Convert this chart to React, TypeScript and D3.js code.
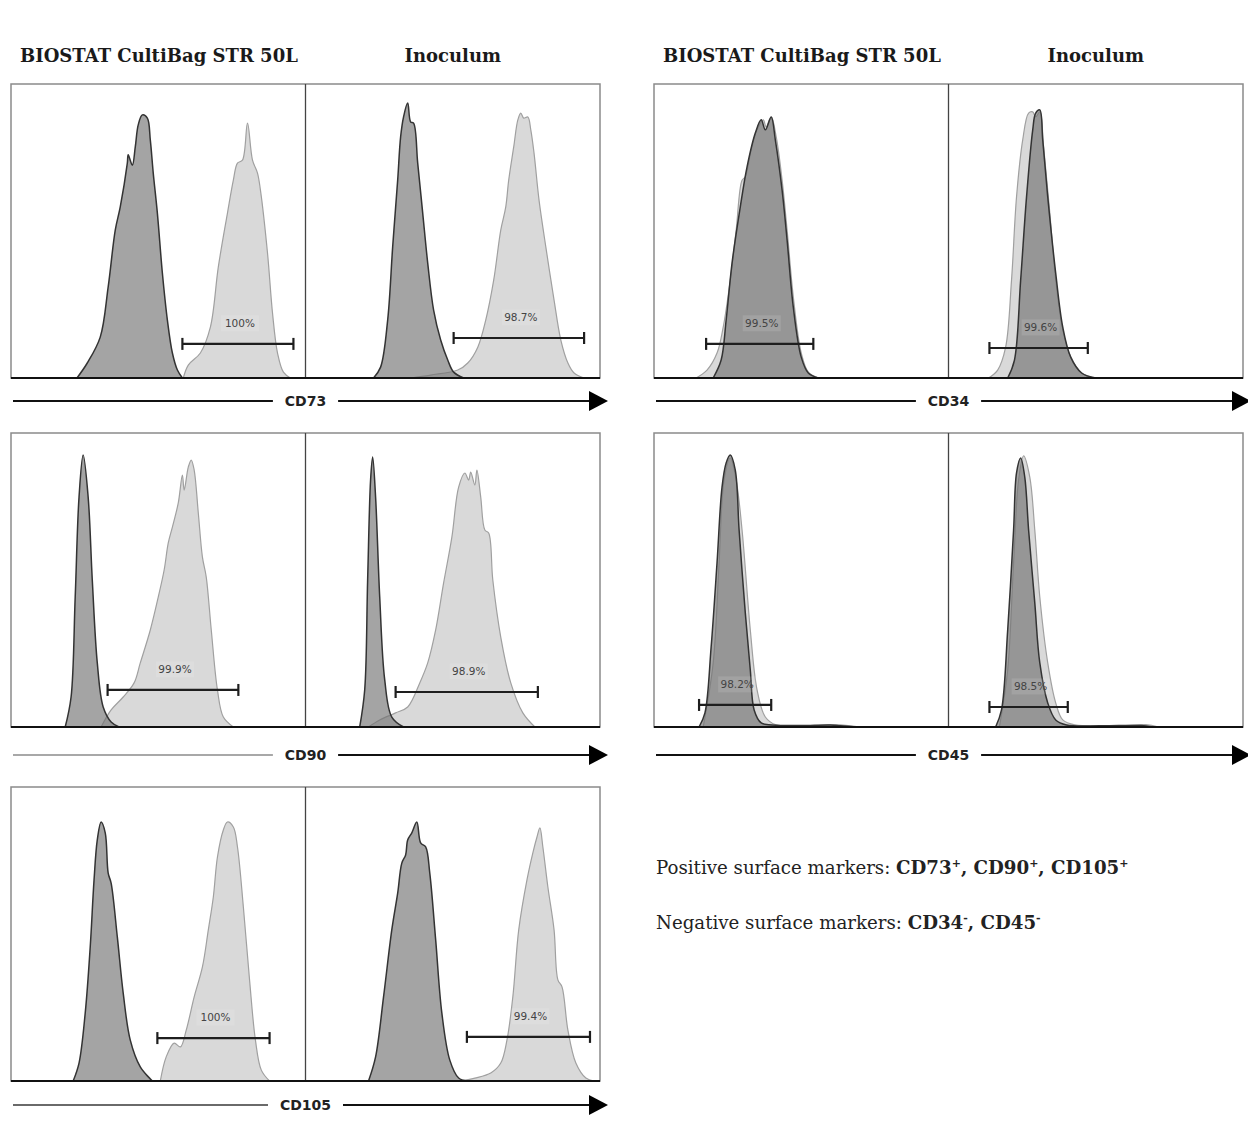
import React from "react";
import * as d3 from "d3";

type Pt = [number, number];

// ---------- Text ----------
const columnTitles = ["BIOSTAT CultiBag STR 50L", "Inoculum"];
const leftMarkers = ["CD73", "CD90", "CD105"];
const rightMarkers = ["CD34", "CD45"];
const positiveLabel = "Positive surface markers: ";
const positiveMarkers = ["CD73", "CD90", "CD105"];
const negativeLabel = "Negative surface markers: ";
const negativeMarkers = ["CD34", "CD45"];

// ---------- Histograms (x: fluorescence channel 0-100, y: % of max count) ----------
// dark = isotype control, light = stained sample
const cd73BioIso: Pt[] = [[22.4,0],[25.9,5.1],[30.3,13.9],[33.0,31.0],[35.4,50.3],[37.1,58.2],[39.5,73.1],[39.8,75.9],[41.2,72.4],[42.2,78.6],[43.2,86.1],[44.6,89.5],[46.3,88.4],[47.3,81.0],[48.3,69.7],[49.7,56.1],[51.4,35.7],[53.1,19.7],[54.8,8.5],[56.5,2.7],[58.2,0]];
const cd73BioStain: Pt[] = [[58.5,0],[60.2,4.4],[64.3,8.5],[67.7,17.3],[70.4,37.8],[73.5,56.1],[75.5,67.3],[76.9,73.1],[78.6,74.1],[80.3,86.7],[82.0,74.1],[83.7,69.7],[84.7,63.9],[87.1,42.5],[88.8,22.1],[90.5,8.5],[92.5,2.0],[94.9,0]];
const cd73InoIso: Pt[] = [[23.1,0],[25.5,3.7],[27.9,19.7],[29.6,44.6],[31.3,67.3],[32.3,82.0],[33.3,88.8],[34.7,93.5],[35.7,87.1],[36.7,86.7],[38.1,73.1],[39.8,56.1],[41.5,39.1],[43.5,23.1],[45.9,12.9],[48.3,6.1],[50.3,2.0],[53.7,0]];
const cd73InoStain: Pt[] = [[35.7,0],[42.5,1.0],[51.7,2.7],[55.1,5.1],[58.5,10.5],[61.2,19.7],[63.9,33.3],[66.3,50.3],[68.0,58.2],[69.0,67.3],[70.7,78.6],[72.1,87.8],[73.1,90.1],[74.1,88.4],[75.5,88.8],[76.5,84.4],[77.6,76.5],[79.3,60.5],[81.6,44.6],[84.4,26.5],[86.7,12.9],[89.1,5.1],[91.2,1.7],[94.6,0]];

const cd90BioIso: Pt[] = [[18.4,0],[20.4,10.2],[21.8,44.2],[23.1,78.2],[24.5,92.5],[26.2,78.2],[27.6,50.0],[29.3,21.8],[31.3,6.8],[34.0,1.7],[36.7,0]];
const cd90BioStain: Pt[] = [[30.6,0],[34.0,5.8],[38.1,10.2],[41.8,15.0],[43.9,21.8],[47.3,33.0],[50.0,44.2],[52.0,53.4],[53.4,62.6],[54.8,68.0],[56.8,76.2],[58.2,85.7],[58.8,80.6],[60.2,88.4],[61.2,90.8],[62.2,87.4],[63.6,72.8],[65.0,57.8],[66.3,51.0],[68.0,33.0],[70.1,12.6],[72.1,3.4],[75.5,0]];
const cd90InoIso: Pt[] = [[18.4,0],[20.1,12.6],[21.1,50.0],[22.1,84.0],[22.8,91.8],[23.8,78.2],[25.2,44.2],[26.9,16.0],[29.3,3.4],[33.3,0]];
const cd90InoStain: Pt[] = [[21.4,0],[25.2,2.4],[30.6,4.8],[34.7,6.8],[38.8,15.0],[41.5,21.8],[44.2,33.0],[46.9,49.0],[49.7,64.6],[52.0,81.6],[54.1,86.4],[55.4,84.0],[56.1,86.7],[57.5,82.3],[58.2,87.4],[59.5,78.2],[60.9,67.0],[62.2,66.0],[63.6,50.0],[66.3,30.6],[69.7,15.0],[73.8,4.8],[77.9,0]];

const cd105BioIso: Pt[] = [[21.1,0],[23.1,6.1],[25.2,23.1],[26.9,45.6],[28.2,68.4],[29.3,82.0],[30.6,88.1],[32.0,84.4],[33.0,70.7],[34.0,67.3],[36.1,49.0],[38.1,29.9],[40.5,13.9],[43.9,4.8],[48.0,0]];
const cd105BioStain: Pt[] = [[50.7,0],[52.7,8.2],[55.4,12.9],[57.5,11.6],[59.5,17.3],[62.2,28.6],[65.0,38.8],[67.0,51.4],[68.7,62.6],[70.1,76.2],[72.1,85.4],[73.5,88.1],[75.5,86.4],[76.9,79.6],[78.9,59.2],[81.0,34.4],[83.0,13.9],[85.0,3.7],[87.8,0]];
const cd105InoIso: Pt[] = [[21.4,0],[23.8,8.2],[26.5,28.6],[29.3,51.4],[31.3,63.9],[32.7,74.1],[34.0,76.9],[34.7,82.0],[36.1,84.4],[37.8,88.1],[39.1,81.0],[40.8,79.6],[42.2,70.7],[44.2,48.0],[46.3,23.1],[49.0,7.1],[52.0,1.0],[54.8,0]];
const cd105InoStain: Pt[] = [[52.0,0],[57.5,1.0],[62.9,2.7],[66.3,6.1],[68.4,13.9],[70.4,28.6],[72.4,51.4],[75.2,68.4],[77.2,77.6],[78.6,83.0],[79.6,86.1],[80.6,79.6],[82.3,66.0],[84.4,51.4],[85.7,34.4],[87.1,32.0],[89.1,17.3],[91.8,6.1],[95.2,1.0],[98.0,0]];

const cd34BioIso: Pt[] = [[20.1,0],[22.8,6.1],[24.5,19.7],[26.5,39.1],[29.3,58.2],[31.6,71.8],[34.4,83.3],[36.4,87.8],[37.8,84.4],[39.8,88.8],[41.2,81.0],[43.5,63.9],[45.2,46.9],[47.3,24.1],[50.0,7.1],[52.4,1.7],[55.8,0]];
const cd34BioStain: Pt[] = [[14.3,0],[18.0,2.7],[21.4,8.5],[23.5,17.3],[25.9,33.3],[27.9,50.3],[29.9,67.3],[31.0,68.4],[33.0,77.6],[35.0,84.4],[37.1,87.8],[38.1,85.4],[39.8,88.8],[41.5,82.0],[43.5,67.3],[45.2,50.3],[47.3,27.6],[50.0,8.5],[52.4,2.0],[55.8,0]];
const cd34InoIso: Pt[] = [[20.1,0],[22.4,6.1],[24.5,33.3],[26.5,61.6],[28.6,84.4],[29.6,90.1],[31.0,91.2],[32.0,81.0],[33.7,61.6],[36.4,35.7],[38.8,17.3],[41.5,7.1],[45.2,1.7],[50.0,0]];
const cd34InoStain: Pt[] = [[13.6,0],[16.7,2.7],[19.4,10.5],[21.4,33.3],[23.1,61.6],[25.2,81.0],[27.2,90.1],[28.6,90.5],[29.6,88.8],[31.0,90.5],[32.3,78.6],[34.4,56.1],[36.4,33.3],[38.8,16.3],[41.5,7.1],[45.2,1.7],[49.3,0]];

const cd45BioIso: Pt[] = [[15.3,0],[17.3,4.8],[19.4,27.2],[21.4,55.8],[23.1,81.6],[24.5,89.8],[25.9,92.5],[27.6,87.4],[28.9,67.0],[31.0,38.8],[32.7,19.4],[34.0,5.8],[36.4,1.4],[40.1,0.7],[49.7,0.5],[59.9,0.7],[63.3,0.4],[68.7,0]];
const cd45BioStain: Pt[] = [[16.7,0],[20.1,21.8],[22.1,55.8],[23.8,84.0],[25.9,91.5],[27.9,84.0],[29.9,67.0],[32.7,33.0],[35.0,12.6],[37.8,3.4],[41.5,0.7],[53.1,0.4],[61.6,0.8],[70.1,0]];
const cd45InoIso: Pt[] = [[16.0,0],[18.0,5.8],[20.1,33.0],[22.1,67.0],[23.1,86.4],[24.5,91.5],[25.9,85.0],[27.2,67.0],[29.3,42.2],[31.0,21.8],[33.7,8.2],[36.4,2.4],[40.1,0.7],[51.7,0.4],[65.3,0.5],[69.4,0]];
const cd45InoStain: Pt[] = [[17.3,0],[20.1,19.4],[22.1,55.8],[23.8,84.0],[25.5,92.2],[27.6,85.0],[29.3,67.0],[31.0,44.2],[33.7,21.8],[36.4,8.2],[38.8,2.4],[42.9,0.7],[58.5,0.5],[67.0,0.8],[71.4,0]];

// ---------- Gates [start, end, level] and their percentages ----------
const gateStarts = [58.2, 50.3, 32.8, 30.6, 49.7, 54.8, 17.7, 13.9, 15.3, 13.9];
const gateEnds = [95.9, 94.6, 77.2, 78.9, 87.8, 96.6, 54.1, 47.3, 39.8, 40.5];
const gateLevels = [11.6, 13.6, 12.6, 11.9, 14.6, 15.0, 11.6, 10.2, 7.5, 6.8];
const gatePercents = ["100%", "98.7%", "99.9%", "98.9%", "100%", "99.4%", "99.5%", "99.6%", "98.2%", "98.5%"];

const isoSeries = [cd73BioIso, cd73InoIso, cd90BioIso, cd90InoIso, cd105BioIso, cd105InoIso, cd34BioIso, cd34InoIso, cd45BioIso, cd45InoIso];
const stainSeries = [cd73BioStain, cd73InoStain, cd90BioStain, cd90InoStain, cd105BioStain, cd105InoStain, cd34BioStain, cd34InoStain, cd45BioStain, cd45InoStain];

// ---------- Layout ----------
const W = 1248;
const H = 1137;
const SUB_W = 294.5;
const SUB_H = 294;
const ROW_TOPS = [84, 433, 787];
const AXIS_GAP = [23, 28, 24];
const GROUP_X = [11, 654];
const SERIF = "'DejaVu Serif', 'Liberation Serif', serif";
const SANS = "'DejaVu Sans', 'Open Sans', sans-serif";

function SubPanel({ x0, yTop, idx }: { x0: number; yTop: number; idx: number }) {
  const x = d3.scaleLinear().domain([0, 100]).range([x0, x0 + SUB_W]);
  const y = d3.scaleLinear().domain([0, 100]).range([yTop + SUB_H, yTop]);
  const curve = d3.curveCatmullRom.alpha(0.5);
  const area = d3.area<Pt>().x((d) => x(d[0])).y0(y(0)).y1((d) => y(d[1])).curve(curve);
  const line = d3.line<Pt>().x((d) => x(d[0])).y((d) => y(d[1])).curve(curve);
  const stain = stainSeries[idx];
  const iso = isoSeries[idx];
  const gx1 = x(gateStarts[idx]);
  const gx2 = x(gateEnds[idx]);
  const gy = y(gateLevels[idx]);
  const lx = (gx1 + gx2) / 2 + 2;
  const ly = y(gateLevels[idx] + 7);
  return (
    <g>
      <path d={area(stain) || ""} fill="#d9d9d9" />
      <path d={line(stain) || ""} fill="none" stroke="#a0a0a0" strokeWidth={1.2} />
      <path d={area(iso) || ""} fill="#707070" fillOpacity={0.64} />
      <path d={line(iso) || ""} fill="none" stroke="#333" strokeWidth={1.5} />
      <rect x={lx - 19} y={ly - 8} width={38} height={16} fill="#ffffff" fillOpacity={0.12} />
      <text x={lx} y={ly} textAnchor="middle" dominantBaseline="central" fontFamily={SANS} fontSize={10.5} fill="#444">
        {gatePercents[idx]}
      </text>
      <line x1={gx1} x2={gx2} y1={gy} y2={gy} stroke="#1e1e1e" strokeWidth={2.2} />
      <line x1={gx1} x2={gx1} y1={gy - 6} y2={gy + 6} stroke="#1e1e1e" strokeWidth={2.2} />
      <line x1={gx2} x2={gx2} y1={gy - 6} y2={gy + 6} stroke="#1e1e1e" strokeWidth={2.2} />
    </g>
  );
}

function Row({ x0, row, marker, startIdx, leftLineColor }: { x0: number; row: number; marker: string; startIdx: number; leftLineColor: string }) {
  const yTop = ROW_TOPS[row];
  const base = yTop + SUB_H;
  const ay = base + AXIS_GAP[row];
  const cx = x0 + SUB_W;
  const half = (marker.length * 9.8) / 2;
  const arrowBase = x0 + 578;
  const tip = x0 + 597;
  return (
    <g>
      <SubPanel x0={x0} yTop={yTop} idx={startIdx} />
      <SubPanel x0={x0 + SUB_W} yTop={yTop} idx={startIdx + 1} />
      <rect x={x0} y={yTop} width={SUB_W * 2} height={SUB_H} fill="none" stroke="#8a8a8a" strokeWidth={1.5} />
      <line x1={cx} x2={cx} y1={yTop} y2={base} stroke="#444" strokeWidth={1.3} />
      <line x1={x0} x2={x0 + SUB_W * 2} y1={base} y2={base} stroke="#111" strokeWidth={2} />
      <line x1={x0 + 2} x2={cx - half - 13} y1={ay} y2={ay} stroke={leftLineColor} strokeWidth={2} />
      <text x={cx} y={ay} textAnchor="middle" dominantBaseline="central" fontFamily={SANS} fontWeight="bold" fontSize={14} fill="#222">
        {marker}
      </text>
      <line x1={cx + half + 13} x2={arrowBase + 2} y1={ay} y2={ay} stroke="#111" strokeWidth={2} />
      <path d={`M${arrowBase},${ay - 10}L${tip},${ay}L${arrowBase},${ay + 10}Z`} fill="#000" />
    </g>
  );
}

function Markers({ x, y, label, items, sign }: { x: number; y: number; label: string; items: string[]; sign: string }) {
  return (
    <text x={x} y={y} fontFamily={SERIF} fontSize={18.2} fill="#222">
      <tspan>{label}</tspan>
      {items.map((m, i) => (
        <React.Fragment key={m}>
          <tspan fontWeight="bold">{m}</tspan>
          <tspan fontWeight="bold" fontSize={11} dy={-7}>{sign}</tspan>
          <tspan fontWeight="bold" dy={7}>{i < items.length - 1 ? ", " : ""}</tspan>
        </React.Fragment>
      ))}
    </text>
  );
}

export default function App() {
  return (
    <svg width={W} height={H} viewBox={`0 0 ${W} ${H}`} style={{ position: "absolute", left: 0, top: 0, background: "#fff" }}>
      <rect x={0} y={0} width={W} height={H} fill="#fff" />
      {GROUP_X.map((gx) => (
        <g key={gx}>
          <text x={gx + 9} y={62} fontFamily={SERIF} fontWeight="bold" fontSize={18} fill="#1a1a1a">
            {columnTitles[0]}
          </text>
          <text x={gx + SUB_W * 1.5} y={62} textAnchor="middle" fontFamily={SERIF} fontWeight="bold" fontSize={18} fill="#1a1a1a">
            {columnTitles[1]}
          </text>
        </g>
      ))}
      {leftMarkers.map((m, i) => (
        <Row key={m} x0={GROUP_X[0]} row={i} marker={m} startIdx={i * 2} leftLineColor={i === 0 ? "#111" : i === 1 ? "#a8a8a8" : "#6a6a6a"} />
      ))}
      {rightMarkers.map((m, i) => (
        <Row key={m} x0={GROUP_X[1]} row={i} marker={m} startIdx={6 + i * 2} leftLineColor="#111" />
      ))}
      <Markers x={656} y={874} label={positiveLabel} items={positiveMarkers} sign="+" />
      <Markers x={656} y={929} label={negativeLabel} items={negativeMarkers} sign="-" />
    </svg>
  );
}
